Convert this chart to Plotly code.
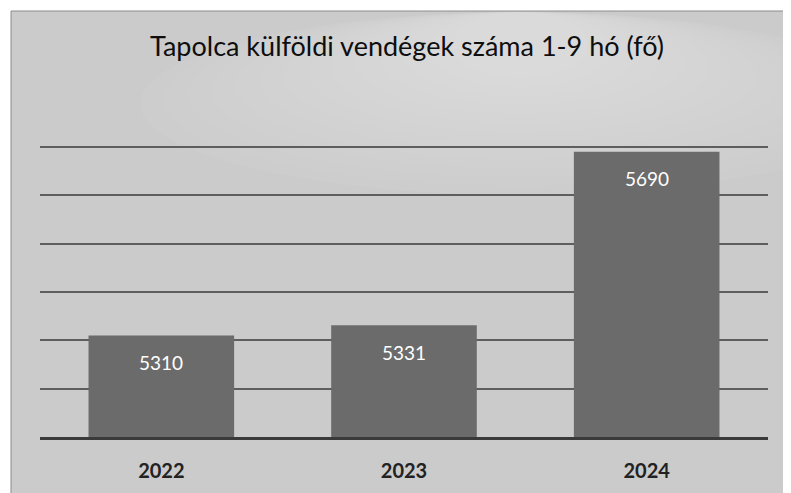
import plotly.graph_objects as go

# Data
years = ["2022", "2023", "2024"]
guests = [5310, 5331, 5690]

TITLE = "Tapolca külföldi vendégek száma 1-9 hó (fő)"

W, H = 791, 493
OFF = 8  # page body margin shifts the figure by 8 px
# plot area in target pixels (left, right, top, bottom)
PL, PR, PT, PB = 40 - OFF, 768 - OFF, 142 - OFF, 437 - OFF


def px_x(x):
    # target pixel x -> paper x
    return (x - OFF - PL) / (PR - PL)


def px_y(y):
    # target pixel y (from top) -> paper y
    return (PB - (y - OFF)) / (PB - PT)


fig = go.Figure()

fig.add_trace(go.Bar(
    x=years,
    y=guests,
    marker=dict(color="#6b6b6b", line=dict(width=0)),
    hoverinfo="x+y",
))

# value labels near the top of each bar (x given as category index,
# otherwise numeric-looking strings get read as numbers)
for i, val in enumerate(guests):
    fig.add_annotation(
        x=i, y=val, xref="x", yref="y",
        text=str(val), showarrow=False,
        yanchor="middle", yshift=-27,
        font=dict(family="Lato", size=19, color="#ffffff"),
    )

# scanned-paper background: gray panel with a soft light glow near the top
shapes = [dict(
    type="rect", xref="paper", yref="paper", layer="below",
    x0=px_x(11), x1=px_x(W + 5), y0=px_y(H + 5), y1=px_y(11),
    fillcolor="#cbcbcb", line=dict(color="#8c8c8c", width=1),
)]
for i in range(14):
    rx = 380 - i * 24
    ry = 150 - i * 9
    cx, cy = 520, 45
    shapes.append(dict(
        type="circle", xref="paper", yref="paper", layer="below",
        x0=px_x(cx - rx), x1=px_x(cx + rx),
        y0=px_y(cy + ry), y1=px_y(max(cy - ry, 12)),
        fillcolor="rgba(255,255,255,0.04)", line=dict(width=0),
    ))

fig.update_layout(
    width=W, height=H,
    margin=dict(l=PL, r=W - PR, t=PT, b=H - PB),
    paper_bgcolor="#ffffff",
    plot_bgcolor="rgba(0,0,0,0)",
    shapes=shapes,
    bargap=0.4,
    showlegend=False,
    title=dict(
        text=TITLE,
        x=px_x(407), xanchor="center", xref="paper",
        y=1 - (47 - OFF) / H, yanchor="middle",
        font=dict(family="Lato", size=27, color="#0e0e0e"),
    ),
    xaxis=dict(
        type="category",
        showgrid=False, zeroline=False,
        showline=True, linecolor="#3a3a3a", linewidth=3,
        ticks="", ticklabelstandoff=14,
        tickfont=dict(family="Lato", size=20, color="#222222", weight="bold"),
    ),
    yaxis=dict(
        range=[5100, 5710], dtick=100,
        showgrid=True, gridcolor="#5e5e5e", gridwidth=1.5,
        zeroline=False, showticklabels=False, ticks="",
    ),
)

fig.write_html("out.html")
